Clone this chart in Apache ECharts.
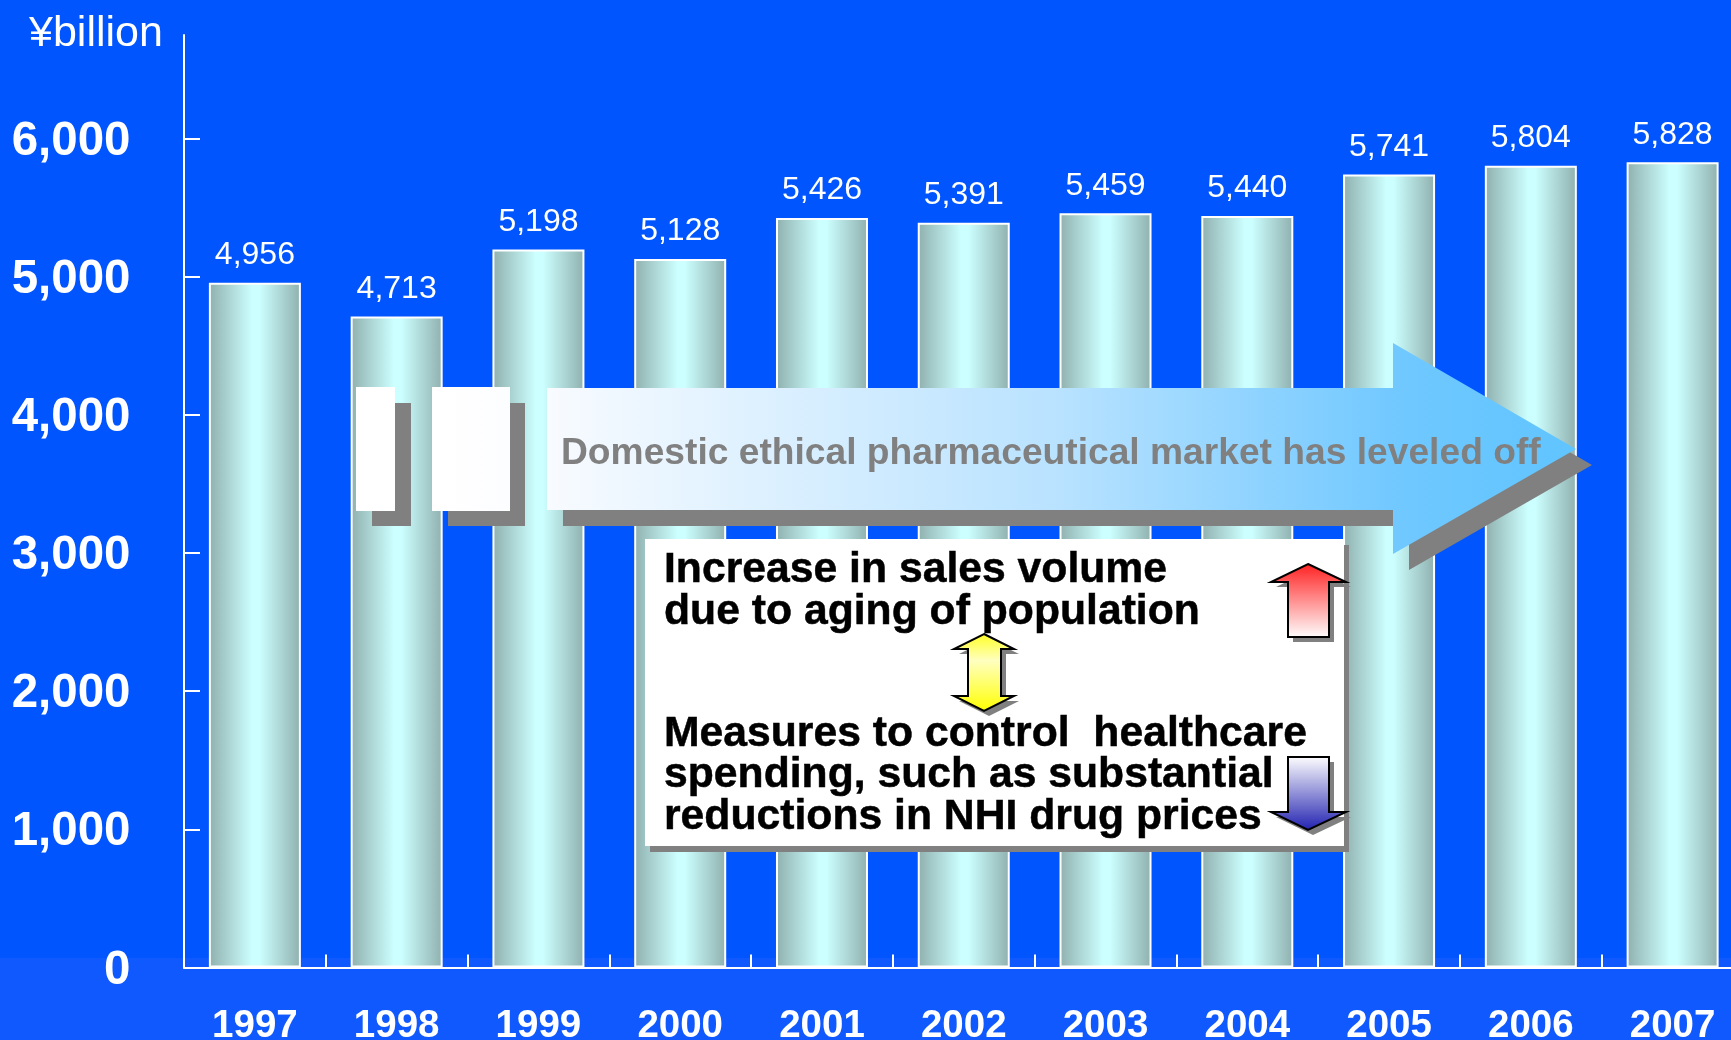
<!DOCTYPE html>
<html>
<head>
<meta charset="utf-8">
<style>
html,body{margin:0;padding:0;background:#0055ff;}
#main{width:1731px;height:1040px;}
</style>
<script src="https://cdn.jsdelivr.net/npm/echarts@6/dist/echarts.min.js"></script>
</head>
<body>
<div id="main"></div>
<script>
var years = ['1997','1998','1999','2000','2001','2002','2003','2004','2005','2006','2007'];
var market = [4956,4713,5198,5128,5426,5391,5459,5440,5741,5804,5828];
var yTicks = [0,1000,2000,3000,4000,5000,6000];
var unitText = '¥billion';
var arrowText = 'Domestic ethical pharmaceutical market has leveled off';
var upLines = ['Increase in sales volume','due to aging of population'];
var downLines = ['Measures to control  healthcare','spending, such as substantial','reductions in NHI drug prices'];

var FONT = '"Liberation Sans", Arial, sans-serif';
var SHADOW = '#808080';

function comma(v){
    return String(v).replace(/\B(?=(\d{3})+$)/g, ',');
}
function vGrad(stops){
    return new echarts.graphic.LinearGradient(0,0,0,1,stops);
}
function hGrad(stops){
    return new echarts.graphic.LinearGradient(0,0,1,0,stops);
}
function rect(x,y,w,h,fill){
    return {type:'rect',z:10,shape:{x:x,y:y,width:w,height:h},style:{fill:fill}};
}
function poly(points,fill,stroke){
    return {type:'polygon',z:stroke?13:12,shape:{points:points},
        style:{fill:fill,stroke:stroke||null,lineWidth:stroke?2:0,lineJoin:'miter'}};
}
function shifted(points,d){
    return points.map(function(p){return [p[0]+d,p[1]+d];});
}
function label(t,x,y,size,color,stroke){
    return {type:'text',z:14,x:x,y:y,style:{text:t,fill:color,font:'bold '+size+'px '+FONT,
        textVerticalAlign:'middle',stroke:stroke||null,lineWidth:stroke?0.5:0}};
}

var bigArrow = [[547,388],[1393,388],[1393,343],[1576,449],[1393,554],[1393,510],[547,510]];
var upArrow = [[1308,564],[1346,582],[1329,582],[1329,637],[1288,637],[1288,582],[1271,582]];
var downArrow = [[1288,757],[1329,757],[1329,812],[1346,812],[1308,830],[1271,812],[1288,812]];
var bothArrow = [[984,634],[1014,649],[1001,649],[1001,696],[1014,696],[984,711],[954,696],[968,696],[968,649],[954,649]];

var shapes = [
    rect(372,403,39,123,SHADOW),
    rect(448,403,77,123,SHADOW),
    poly(shifted(bigArrow,16),SHADOW),
    rect(356,387,39,124,'#ffffff'),
    rect(432,387,78,124,hGrad([{offset:0,color:'#ffffff'},{offset:1,color:'#fcfdff'}])),
    poly(bigArrow,hGrad([
        {offset:0,color:'#f8fbff'},
        {offset:0.5,color:'#b8e2ff'},
        {offset:0.83,color:'#70c8ff'},
        {offset:1,color:'#60c4ff'}
    ])),
    rect(650,545,699,307,SHADOW),
    rect(645,539,699,307,'#ffffff'),
    poly(shifted(upArrow,5),SHADOW),
    poly(shifted(downArrow,5),SHADOW),
    poly(shifted(bothArrow,5),SHADOW),
    poly(upArrow,vGrad([{offset:0,color:'#ff2020'},{offset:1,color:'#ffffff'}]),'#000000'),
    poly(downArrow,vGrad([{offset:0,color:'#ffffff'},{offset:1,color:'#2020b0'}]),'#000000'),
    poly(bothArrow,vGrad([{offset:0,color:'#ffff20'},{offset:0.35,color:'#ffffc0'},{offset:1,color:'#ffff00'}]),'#000000'),
    label(arrowText,561,454,37.2,'#808080')
];
upLines.forEach(function(t,i){
    shapes.push(label(t,664,570+i*42,42.7,'#000000','#000000'));
});
downLines.forEach(function(t,i){
    shapes.push(label(t,664,734+i*41.5,42.7,'#000000','#000000'));
});

var chart = echarts.init(document.getElementById('main'));
chart.setOption({
    animation:false,
    backgroundColor:new echarts.graphic.LinearGradient(0,0,0,1,[
        {offset:0,color:'#0055ff'},
        {offset:0.921,color:'#0055ff'},
        {offset:0.921,color:'#1059ff'},
        {offset:1,color:'#1059ff'}
    ]),
    title:{
        text:unitText,left:24,top:8,
        textStyle:{color:'#ffffff',fontFamily:FONT,fontSize:43,fontWeight:'normal'}
    },
    grid:{left:184,top:35,width:1559.5,height:932.5,outerBoundsMode:'none'},
    xAxis:{
        type:'category',
        data:years,
        axisLine:{lineStyle:{color:'#ffffff',width:2}},
        axisTick:{show:true,inside:true,length:13,lineStyle:{color:'#ffffff',width:2}},
        axisLabel:{color:'#ffffff',fontFamily:FONT,fontSize:38.5,fontWeight:'bold',margin:39.5,interval:0}
    },
    yAxis:{
        type:'value',
        min:0,
        max:6750,
        splitLine:{show:false},
        axisLine:{show:true,lineStyle:{color:'#ffffff',width:2}},
        axisTick:{show:true,inside:true,length:16,customValues:yTicks,lineStyle:{color:'#ffffff',width:2}},
        axisLabel:{color:'#ffffff',fontFamily:FONT,fontSize:47.5,fontWeight:'bold',margin:53.5,
            verticalAlign:'top',lineHeight:6,
            customValues:yTicks,formatter:function(v){return comma(v);}}
    },
    series:[{
        type:'bar',
        data:market,
        barWidth:92,
        itemStyle:{
            borderColor:'#ffffff',
            borderWidth:2,
            color:new echarts.graphic.LinearGradient(0,0,1,0,[
                {offset:0,color:'#8fb0ae'},
                {offset:0.47,color:'#ccffff'},
                {offset:0.55,color:'#ccffff'},
                {offset:1,color:'#8fb0ae'}
            ])
        },
        label:{
            show:true,position:'top',distance:11.5,color:'#ffffff',
            fontFamily:FONT,fontSize:32,
            formatter:function(p){return comma(p.value);}
        }
    }],
    graphic:{elements:shapes}
});
</script>
</body>
</html>
